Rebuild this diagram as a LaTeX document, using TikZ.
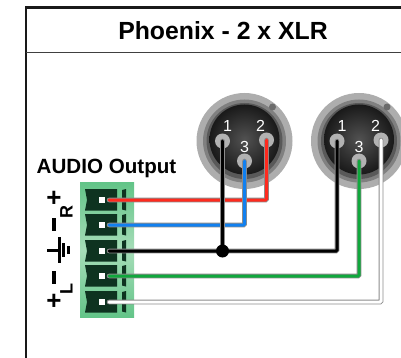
\documentclass[tikz,border=0pt]{standalone}
\usepackage{fontspec}
\usepackage{xcolor}
\setmainfont{Liberation Sans}
\definecolor{bodygreen}{HTML}{62C488}
\definecolor{bodylight}{HTML}{A6DDB8}
\definecolor{slotdark}{HTML}{0E3320}
\definecolor{wirered}{HTML}{FF2A1E}
\definecolor{wireblue}{HTML}{1080F0}
\definecolor{wiregreen}{HTML}{0FA83C}
\tikzset{
    pinhole/.style={circle, fill=black!30, minimum size=15pt, inner sep=0pt},
    pinnum/.style={text=white, font=\fontsize{16}{16}\selectfont, inner sep=0pt},
    screw/.style={fill=white, minimum size=6pt, inner sep=0pt},
    polarity/.style={font=\bfseries\fontsize{18}{18}\selectfont, inner sep=0pt},
    minusbar/.style={fill=black, minimum width=4.5pt, minimum height=13pt, inner sep=0pt},
    under/.style={draw=black!45, line width=4.6pt, rounded corners=1pt},
    over/.style={line width=3pt, rounded corners=1pt}
}
\begin{document}
\begin{tikzpicture}[x=1pt,y=-1pt]
\useasboundingbox (0,0) rectangle (401,358);
% Frame and title
\draw[line width=2.6pt, black!90] (26,358) -- (26,7.5) -- (401,7.5);
\draw[line width=1pt, black!75] (26,53) -- (401,53);
\node[font=\bfseries\fontsize{24.8}{26}\selectfont, inner sep=0pt] (title) at (223,31) {Phoenix - 2 x XLR};
\node[font=\bfseries\fontsize{20.6}{22}\selectfont, inner sep=0pt] (audio) at (106.5,168.5) {AUDIO Output};

% XLR connectors
\foreach \n/\cx in {a/244.5,b/359} {
    \begin{scope}[xshift=\cx pt]
    \fill[black!32] (0,141) circle (48);
    \fill[black!50] (0,141) circle (41.5);
    \fill[black!58] (28,107) circle (3.5);
    \fill[black!65] (0,141) circle (38);
    \shade[inner color=black!68, outer color=black!90] (0,139.5) circle (35);
    \node[pinhole] (\n1) at (-22,141) {};
    \node[pinhole] (\n2) at (22,140) {};
    \node[pinhole] (\n3) at (0,161) {};
    \end{scope}
}
\node[pinnum] (numa1) at (227.5,126) {1};
\node[pinnum] (numa2) at (260.5,126) {2};
\node[pinnum] (numa3) at (244.5,147) {3};
\node[pinnum] (numb1) at (342,126) {1};
\node[pinnum] (numb2) at (375.5,126) {2};
\node[pinnum] (numb3) at (359,147) {3};

% Phoenix plug
\node[minimum width=54pt, minimum height=135pt, inner sep=0pt, top color=bodygreen, bottom color=bodygreen, middle color=bodylight] (plug) at (107,250) {};
\foreach \i/\y in {1/200,2/225,3/251,4/276,5/302} {
    \fill[slotdark] (85,\y-11) -- (117,\y-11) -- (117,\y+10.5) -- (85,\y+10.5) -- (87,\y) -- cycle;
    \fill[slotdark] (122,\y-10) -- (126,\y-11) -- (126,\y+10.5) -- (122,\y+9.5) -- cycle;
    \node[screw] (screw\i) at (102,\y) {};
    \coordinate (end\i) at (109,\y);
}

% Wires
\foreach \from/\to/\col in {end1/a2/wirered,end2/a3/wireblue,end3/b1/black,end4/b3/wiregreen,end5/b2/white} {
    \draw[under, line cap=round] (\from) -| (\to.center);
    \draw[over, draw=\col, line cap=round] (\from) -| (\to.center);
}
\coordinate (joint) at (a1.center |- end3);
\draw[under, line cap=round] (joint) -- (a1.center);
\draw[over, line cap=round] (joint) -- (a1.center);
\node[circle, fill=black, minimum size=13pt, inner sep=0pt] (dot) at (joint) {};

% Polarity labels
\node[polarity, font=\bfseries\fontsize{26}{26}\selectfont] (plusr) at (54,199) {+};
\node[polarity, rotate=90] (letr) at (66.5,211.5) {R};
\node[minusbar] (minusr) at (54,224.5) {};
\node[minusbar] (minusl) at (54,277.5) {};
\node[polarity, rotate=90] (letl) at (66.5,289) {L};
\node[polarity, font=\bfseries\fontsize{26}{26}\selectfont] (plusl) at (54,302) {+};
% Ground
\draw[line width=3pt] (47,250) -- (59,250);
\draw[line width=3pt] (59,237) -- (59,263);
\draw[line width=2.6pt] (63.5,243) -- (63.5,257);
\draw[line width=3pt] (68.5,246) -- (68.5,254);
\end{tikzpicture}
\end{document}
